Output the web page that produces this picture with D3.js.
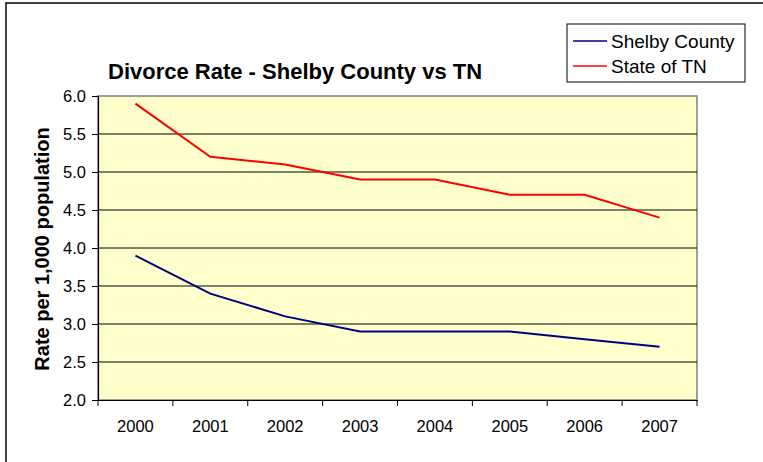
<!DOCTYPE html>
<html>
<head>
<meta charset="utf-8">
<script src="https://cdn.jsdelivr.net/npm/d3@7"></script>
<style>
  body { margin: 0; background: #fff; }
  svg { display: block; font-family: Arial, "Liberation Sans", sans-serif; }
</style>
</head>
<body>
<div id="chart"></div>
<script>
const years = ['2000', '2001', '2002', '2003', '2004', '2005', '2006', '2007'];
const shelbyValues = [3.9, 3.4, 3.1, 2.9, 2.9, 2.9, 2.8, 2.7];
const tnValues = [5.9, 5.2, 5.1, 4.9, 4.9, 4.7, 4.7, 4.4];
const yTicks = [2.0, 2.5, 3.0, 3.5, 4.0, 4.5, 5.0, 5.5, 6.0];

const series = [
    {name: 'Shelby County', values: shelbyValues, color: '#000080'},
    {name: 'State of TN', values: tnValues, color: '#ff0000'}
];

const width = 763, height = 462;
const margin = {top: 96, right: 66, bottom: 62, left: 98};
const innerW = width - margin.left - margin.right;
const innerH = height - margin.top - margin.bottom;

const svg = d3.select('#chart')
    .append('svg')
    .attr('width', width)
    .attr('height', height);

// outer chart frame
svg.append('rect')
    .attr('x', 6)
    .attr('y', 3)
    .attr('width', width + 10)
    .attr('height', height + 10)
    .attr('fill', 'none')
    .attr('stroke', '#000')
    .attr('stroke-width', 1.5);

const xScale = d3.scaleBand()
    .domain(years)
    .range([0, innerW]);

const yScale = d3.scaleLinear()
    .domain([2, 6])
    .range([innerH, 0]);

const g = svg.append('g')
    .attr('transform', `translate(${margin.left}, ${margin.top})`);

g.append('rect')
    .attr('width', innerW)
    .attr('height', innerH)
    .attr('fill', '#ffffcc')
    .attr('stroke', '#808080')
    .attr('stroke-width', 1.5);

// gridlines
g.selectAll('.grid')
    .data(yTicks.slice(1, -1))
    .enter().append('line')
    .attr('x1', 0)
    .attr('x2', innerW)
    .attr('y1', d => yScale(d))
    .attr('y2', d => yScale(d))
    .attr('stroke', '#000')
    .attr('stroke-width', 1);

const xAxis = g.append('g')
    .attr('transform', `translate(0, ${innerH})`)
    .call(d3.axisBottom(xScale).tickSize(0).tickPadding(20));
xAxis.select('.domain').attr('stroke', '#000').attr('stroke-width', 1.2);
xAxis.selectAll('text').attr('font-size', 16.5).attr('fill', '#000');

// x ticks at category boundaries
g.selectAll('.xtick')
    .data(years.concat(['end']))
    .enter().append('line')
    .attr('x1', (d, i) => i * xScale.bandwidth())
    .attr('x2', (d, i) => i * xScale.bandwidth())
    .attr('y1', innerH)
    .attr('y2', innerH + 6)
    .attr('stroke', '#000');

const yAxis = g.append('g')
    .call(d3.axisLeft(yScale).tickValues(yTicks).tickFormat(d3.format('.1f')).tickSize(6).tickPadding(6));
yAxis.select('.domain').attr('stroke', '#000').attr('stroke-width', 1.2);
yAxis.selectAll('text').attr('font-size', 16.5).attr('fill', '#000');

const line = d3.line()
    .x((d, i) => xScale(years[i]) + xScale.bandwidth() / 2)
    .y(d => yScale(d));

g.selectAll('.series')
    .data(series)
    .enter().append('path')
    .attr('d', d => line(d.values))
    .attr('fill', 'none')
    .attr('stroke', d => d.color)
    .attr('stroke-width', 2);

// title
svg.append('text')
    .attr('x', 108)
    .attr('y', 79)
    .attr('font-size', 22)
    .attr('font-weight', 'bold')
    .text('Divorce Rate - Shelby County vs TN');

// y axis label
svg.append('text')
    .attr('transform', `translate(49, ${margin.top + innerH / 2 + 1}) rotate(-90)`)
    .attr('text-anchor', 'middle')
    .attr('font-size', 20)
    .attr('font-weight', 'bold')
    .text('Rate per 1,000 population');

// legend
const legend = svg.append('g')
    .attr('transform', 'translate(567, 24)');
legend.append('rect')
    .attr('width', 178)
    .attr('height', 58)
    .attr('fill', '#fff')
    .attr('stroke', '#000')
    .attr('stroke-width', 1);
const item = legend.selectAll('.item')
    .data(series)
    .enter().append('g')
    .attr('transform', (d, i) => `translate(0, ${17 + i * 25})`);
item.append('line')
    .attr('x1', 6)
    .attr('x2', 40)
    .attr('stroke', d => d.color)
    .attr('stroke-width', 1.5);
item.append('text')
    .attr('x', 44)
    .attr('dy', '0.35em')
    .attr('font-size', 19)
    .text(d => d.name);
</script>
</body>
</html>
